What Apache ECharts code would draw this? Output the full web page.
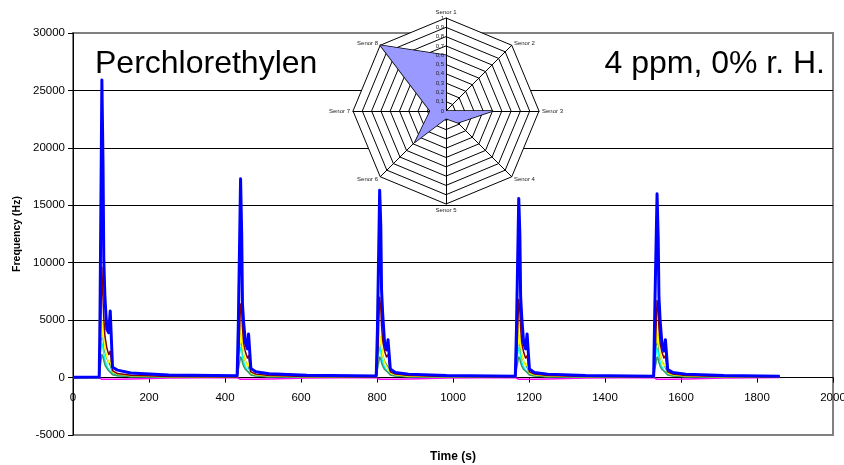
<!DOCTYPE html>
<html>
<head>
<meta charset="utf-8">
<title>Perchlorethylen</title>
<script src="https://cdn.jsdelivr.net/npm/echarts@6/dist/echarts.min.js"></script>
<style>
  html, body { margin: 0; padding: 0; background: #fff; }
  #chart { width: 844px; height: 465px; }
</style>
</head>
<body>
<div id="chart"></div>
<script>
// Sample times (s) shared by every sensor trace
const times = [0,
  69, 71, 76, 79, 81, 84, 89, 94, 98, 104, 117, 152, 252,
  432, 435, 441, 444, 446, 449, 454, 459, 462, 468, 481, 516, 616,
  798, 801, 807, 810, 812, 815, 820, 825, 829, 835, 848, 883, 983,
  1164, 1167, 1173, 1176, 1178, 1181, 1186, 1191, 1195, 1201, 1214, 1249, 1349,
  1528, 1531, 1537, 1540, 1542, 1545, 1550, 1555, 1559, 1565, 1578, 1613, 1713,
  1860];

// Frequency (Hz) per sensor at the sample times
const blueHz = [30,
  40, 5100, 25900, 18600, 10300, 7000, 4200, 3900, 5800, 900, 650, 400, 220,
  150, 4500, 17300, 12300, 6400, 4800, 3000, 2500, 3800, 800, 500, 330, 200,
  130, 4000, 16300, 13200, 7600, 5500, 3000, 2400, 3300, 750, 450, 300, 180,
  120, 4200, 15600, 12400, 7000, 5200, 3000, 2500, 3800, 750, 450, 300, 180,
  120, 5800, 16000, 12100, 7000, 5000, 2900, 2300, 3300, 700, 450, 300, 180,
  120];
const darkRedHz = [0,
  0, 1500, 9600, 6800, 5200, 3600, 2600, 2000, 2300, 600, 350, 200, 100,
  60, 1200, 6400, 5800, 4300, 3000, 2200, 1700, 1900, 500, 300, 170, 90,
  60, 1200, 7000, 6000, 4500, 3200, 2300, 1800, 2000, 500, 300, 170, 90,
  60, 1200, 6800, 5800, 4300, 3000, 2200, 1700, 1900, 500, 300, 170, 90,
  60, 1200, 6700, 5800, 4300, 3000, 2200, 1700, 1900, 500, 300, 170, 90,
  60];
const yellowHz = [0,
  0, 12000, 3500, 4800, 3500, 2500, 1800, 1300, 1500, 500, 300, 150, 80,
  40, 8200, 3000, 3800, 2800, 2000, 1400, 1000, 1200, 400, 250, 130, 70,
  40, 6900, 2800, 3600, 2700, 1900, 1300, 1000, 1100, 400, 250, 120, 70,
  40, 7500, 2900, 3700, 2800, 2000, 1400, 1000, 1200, 400, 250, 130, 70,
  40, 8000, 3000, 3800, 2800, 2000, 1400, 1000, 1200, 400, 250, 130, 70,
  40];
const tealHz = [0,
  0, 2500, 4200, 3600, 3000, 2300, 1700, 1300, 1100, 450, 280, 160, 80,
  40, 2000, 3500, 3000, 2500, 1900, 1400, 1100, 900, 400, 250, 140, 70,
  40, 2000, 3500, 3000, 2500, 1900, 1400, 1100, 900, 400, 250, 140, 70,
  40, 2000, 3500, 3000, 2500, 1900, 1400, 1100, 900, 400, 250, 140, 70,
  40, 2000, 3500, 3000, 2500, 1900, 1400, 1100, 900, 400, 250, 140, 70,
  40];
const greenHz = [0,
  0, 800, 2000, 1800, 1500, 1100, 800, 600, 500, 250, 150, 90, 40,
  20, 700, 1800, 1600, 1300, 1000, 700, 550, 450, 230, 140, 80, 40,
  20, 700, 1800, 1600, 1300, 1000, 700, 550, 450, 230, 140, 80, 40,
  20, 700, 1800, 1600, 1300, 1000, 700, 550, 450, 230, 140, 80, 40,
  20, 700, 1800, 1600, 1300, 1000, 700, 550, 450, 230, 140, 80, 40,
  20];
const cyanHz = [0,
  0, 1800, 3000, 2600, 2100, 1500, 1000, 700, 550, 300, 160, 100, 50,
  30, 1500, 2600, 2300, 1800, 1300, 900, 600, 500, 280, 150, 90, 50,
  30, 1500, 2600, 2300, 1800, 1300, 900, 600, 500, 280, 150, 90, 50,
  30, 1500, 2600, 2300, 1800, 1300, 900, 600, 500, 280, 150, 90, 50,
  30, 1500, 2600, 2300, 1800, 1300, 900, 600, 500, 280, 150, 90, 50,
  30];
const magentaHz = [0,
  0, -150, -150, -150, -150, -150, -150, -150, -150, -150, -150, -120, -40,
  0, -150, -150, -150, -150, -150, -150, -150, -150, -150, -150, -120, -40,
  0, -150, -150, -150, -150, -150, -150, -150, -150, -150, -150, -120, -40,
  0, -150, -150, -150, -150, -150, -150, -150, -150, -150, -150, -120, -40,
  0, -150, -150, -150, -150, -150, -150, -150, -150, -150, -150, -120, -40,
  0];

// Sensor response pattern shown in the inset radar
const sensorNames = ['Senor 1', 'Senor 2', 'Senor 3', 'Senor 4', 'Senor 5', 'Senor 6', 'Senor 7', 'Senor 8'];
const sensorResponse = [0.6, 0.0, 0.5, 0.18, 0.08, 0.47, 0.17, 1.0];

const xTicks = { min: 0, max: 2000, interval: 200 };
const yTicks = { min: -5000, max: 30000, interval: 5000 };
const titleLeft = 'Perchlorethylen';
const titleRight = '4 ppm, 0% r. H.';

const FONT = '"Liberation Sans", Arial, sans-serif';

function pairs(values) {
  return times.map((t, i) => [t, values[i]]);
}

// Plot box; the time axis sits on the zero line, so shift it up from the bottom edge
const GRID = { left: 73, right: 11, top: 33, bottom: 30 };
const CHART_H = 465;
const plotH = CHART_H - GRID.top - GRID.bottom;
const zeroShift = plotH * (0 - yTicks.min) / (yTicks.max - yTicks.min);

// Radar goes counter-clockwise from the top, so list sensors 1, 8, 7, ... 2
const radarOrder = [0, 7, 6, 5, 4, 3, 2, 1];
const radarValues = radarOrder.map(k => sensorResponse[k]);
const RADAR_GEOM = { center: [446, 111], radius: 93, startAngle: 90, splitNumber: 10, shape: 'polygon' };
const ringLabel = v => String(Math.round(v * 10) / 10).replace('.', ',');

const traces = [
  { name: 'magenta', data: magentaHz, color: '#ff00ff', width: 1.5 },
  { name: 'cyan', data: cyanHz, color: '#00ffff', width: 1.5 },
  { name: 'green', data: greenHz, color: '#339966', width: 1.5 },
  { name: 'teal', data: tealHz, color: '#008080', width: 1.5 },
  { name: 'yellow', data: yellowHz, color: '#ffff00', width: 1.5 },
  { name: 'darkred', data: darkRedHz, color: '#800000', width: 1.5 },
  { name: 'blue', data: blueHz, color: '#0000ff', width: 3 }
];

const gridLineColors = ['#808080', '#000', '#000', '#000', '#000', '#000', '#000', '#808080'];
const plainNumber = v => String(v);

const chart = echarts.init(document.getElementById('chart'), null, { renderer: 'canvas' });
chart.setOption({
  animation: false,
  backgroundColor: '#fff',
  textStyle: { fontFamily: FONT },
  title: [
    { text: titleLeft, left: 95, top: 48, padding: 0, textStyle: { fontFamily: FONT, fontSize: 32, fontWeight: 'normal', color: '#000' } },
    { text: titleRight, right: 19, top: 48, padding: 0, textStyle: { fontFamily: FONT, fontSize: 32, fontWeight: 'normal', color: '#000' } }
  ],
  grid: {
    left: GRID.left, right: GRID.right, top: GRID.top, bottom: GRID.bottom,
    outerBoundsMode: 'none', containLabel: false,
    show: true, borderColor: '#808080', borderWidth: 2, backgroundColor: '#fff'
  },
  xAxis: {
    type: 'value',
    min: xTicks.min, max: xTicks.max, interval: xTicks.interval,
    offset: -zeroShift,
    name: 'Time (s)', nameLocation: 'middle', nameGap: 73,
    nameTextStyle: { fontFamily: FONT, fontSize: 12, fontWeight: 'bold', color: '#000' },
    axisLine: { onZero: false, lineStyle: { color: '#000', width: 1 } },
    axisTick: { show: true, inside: false, length: 5, lineStyle: { color: '#000' } },
    axisLabel: { fontFamily: FONT, fontSize: 11.5, color: '#000', margin: 14, formatter: plainNumber },
    splitLine: { show: false }
  },
  yAxis: {
    type: 'value',
    min: yTicks.min, max: yTicks.max, interval: yTicks.interval,
    name: 'Frequency (Hz)', nameLocation: 'middle', nameGap: 41,
    nameTextStyle: { fontFamily: FONT, fontSize: 10.5, fontWeight: 'bold', color: '#000' },
    axisLine: { show: true, lineStyle: { color: '#000', width: 1 } },
    axisTick: { show: true, inside: false, length: 5, lineStyle: { color: '#000' } },
    axisLabel: { fontFamily: FONT, fontSize: 11.5, color: '#000', margin: 8, formatter: plainNumber },
    splitLine: { show: true, lineStyle: { color: gridLineColors, width: 1 } }
  },
  radar: [
    // Web of the inset radar
    Object.assign({
      z: 5,
      nameGap: 3,
      axisName: { fontFamily: FONT, fontSize: 6, color: '#222' },
      axisLine: { lineStyle: { color: '#000', width: 1 } },
      splitLine: { lineStyle: { color: '#000', width: 1 } },
      splitArea: { show: true, areaStyle: { color: ['#fff'] } },
      axisTick: { show: false },
      axisLabel: { show: false },
      indicator: radarOrder.map(k => ({ name: sensorNames[k], min: 0, max: 1 }))
    }, RADAR_GEOM),
    // Ring values along the Senor 1 spoke, drawn above the filled polygon
    Object.assign({
      z: 8,
      axisName: { show: false },
      axisLine: { show: false },
      splitLine: { show: false },
      splitArea: { show: false },
      axisTick: { show: false },
      axisLabel: { show: false, fontFamily: FONT, fontSize: 6, color: '#222', margin: 2, formatter: ringLabel },
      indicator: radarOrder.map((k, i) => {
        const ind = { name: sensorNames[k], min: 0, max: 1 };
        if (i === 0) ind.axisLabel = { show: true };
        return ind;
      })
    }, RADAR_GEOM)
  ],
  series: traces.map(s => ({
    type: 'line',
    name: s.name,
    data: pairs(s.data),
    showSymbol: false,
    symbol: 'none',
    z: 2,
    lineStyle: { color: s.color, width: s.width, join: 'round' },
    itemStyle: { color: s.color }
  })).concat([{
    type: 'radar',
    radarIndex: 0,
    z: 6,
    symbol: 'none',
    lineStyle: { color: '#000', width: 1.5 },
    areaStyle: { color: '#9999ff', opacity: 1 },
    data: [{ value: radarValues, name: 'Perchlorethylen' }]
  }])
});
</script>
</body>
</html>
